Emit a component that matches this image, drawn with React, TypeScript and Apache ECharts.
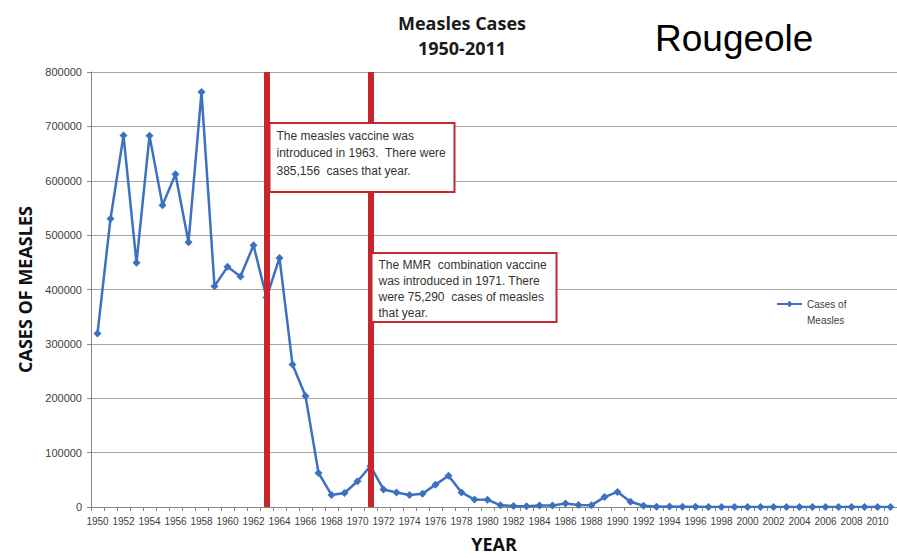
import React, { useEffect, useRef } from "react";
import * as echarts from "echarts";

// Reported measles cases in the United States, one value per year
const years = [
  "1950", "1951", "1952", "1953", "1954", "1955", "1956", "1957", "1958", "1959",
  "1960", "1961", "1962", "1963", "1964", "1965", "1966", "1967", "1968", "1969",
  "1970", "1971", "1972", "1973", "1974", "1975", "1976", "1977", "1978", "1979",
  "1980", "1981", "1982", "1983", "1984", "1985", "1986", "1987", "1988", "1989",
  "1990", "1991", "1992", "1993", "1994", "1995", "1996", "1997", "1998", "1999",
  "2000", "2001", "2002", "2003", "2004", "2005", "2006", "2007", "2008", "2009",
  "2010", "2011",
];

const cases = [
  319124, 530118, 683077, 449146, 682720, 555156, 611936, 486799, 763094, 406162,
  441703, 423919, 481530, 385156, 458083, 261904, 204136, 62705, 22231, 25826,
  47351, 75290, 32275, 26690, 22094, 24374, 41126, 57345, 26871, 13597,
  13506, 3124, 1714, 1497, 2587, 2822, 6282, 3655, 3396, 18193,
  27786, 9643, 2237, 312, 963, 309, 508, 138, 100, 100,
  86, 116, 44, 56, 37, 66, 55, 43, 140, 71,
  63, 220,
];

const seriesName = "Cases of Measles";
const vaccineYear = "1963";
const mmrYear = "1971";

const vaccineNote =
  "The measles vaccine was\nintroduced in 1963.  There were\n385,156  cases that year.";
const mmrNote =
  "The MMR  combination vaccine\nwas introduced in 1971. There\nwere 75,290  cases of measles\nthat year.";

const BLUE = "#3c71bf";
const RED = "#c8262c";
const GRID_GRAY = "#a6a6a6";
const TEXT_GRAY = "#404040";
const SANS = "'Liberation Sans', Arial, sans-serif";
const HEAD = "'Open Sans', 'Liberation Sans', sans-serif";

function noteBox(x: number, y: number, text: string, lineHeight: number) {
  return {
    type: "group",
    x,
    y,
    z: 100,
    children: [
      {
        type: "rect",
        z: 100,
        shape: { x: 0, y: 0, width: 185, height: 69 },
        style: { fill: "#ffffff", stroke: "#c2282e", lineWidth: 2 },
      },
      {
        type: "text",
        z: 101,
        x: 7,
        y: 4,
        style: {
          text,
          fill: "#333333",
          font: `12px ${SANS}`,
          lineHeight,
          verticalAlign: "top",
        },
      },
    ],
  };
}

export default function App() {
  const ref = useRef<HTMLDivElement>(null);

  useEffect(() => {
    if (!ref.current) return;
    const chart = echarts.init(ref.current, undefined, { renderer: "svg" });

    chart.setOption({
      animation: false,
      backgroundColor: "#ffffff",
      title: [
        {
          text: "Measles Cases\n1950-2011",
          left: 457,
          top: 5,
          textAlign: "center",
          textStyle: {
            fontFamily: HEAD,
            fontWeight: "bold",
            fontSize: 18,
            lineHeight: 25,
            color: "#1a1a1a",
          },
        },
        {
          text: "Rougeole",
          left: 650,
          top: 15,
          textStyle: {
            fontFamily: SANS,
            fontWeight: "normal",
            fontSize: 37,
            color: "#000000",
          },
        },
      ],
      legend: {
        data: [seriesName],
        left: 771,
        top: 275,
        itemWidth: 25,
        itemHeight: 8,
        formatter: () => " \nCases of\nMeasles",
        textStyle: { fontFamily: SANS, fontSize: 10, lineHeight: 16, color: TEXT_GRAY },
      },
      grid: { left: 91, top: 72, width: 808, height: 439 },
      xAxis: {
        type: "category",
        data: years,
        boundaryGap: true,
        name: "YEAR",
        nameLocation: "middle",
        nameGap: 28,
        nameTextStyle: {
          fontFamily: HEAD,
          fontWeight: "bold",
          fontSize: 18,
          color: "#111111",
        },
        axisLine: { lineStyle: { color: "#868686", width: 1 } },
        axisTick: { show: true, interval: 0, length: 4, lineStyle: { color: "#868686" } },
        axisLabel: {
          interval: 1,
          margin: 9,
          fontFamily: SANS,
          fontSize: 10,
          color: TEXT_GRAY,
        },
        splitLine: { show: false },
      },
      yAxis: {
        type: "value",
        min: 0,
        max: 800000,
        interval: 100000,
        name: "CASES OF MEASLES",
        nameLocation: "middle",
        nameRotate: 90,
        nameGap: 48,
        nameTextStyle: {
          fontFamily: HEAD,
          fontWeight: "bold",
          fontSize: 18,
          color: "#111111",
        },
        axisLine: { show: true, lineStyle: { color: "#868686", width: 1 } },
        axisTick: { show: true, length: 4, lineStyle: { color: "#868686" } },
        axisLabel: {
          formatter: (v: number) => String(v),
          margin: 9,
          fontFamily: SANS,
          fontSize: 11,
          color: TEXT_GRAY,
        },
        splitLine: { show: true, lineStyle: { color: GRID_GRAY, width: 1 } },
      },
      series: [
        {
          name: seriesName,
          type: "line",
          data: cases,
          symbol: "diamond",
          symbolSize: 8,
          color: BLUE,
          lineStyle: { color: BLUE, width: 2.5 },
          itemStyle: { color: BLUE },
          markLine: {
            silent: true,
            symbol: ["none", "none"],
            label: { show: false },
            lineStyle: { color: RED, width: 6, type: "solid" },
            data: [{ xAxis: vaccineYear }, { xAxis: mmrYear }],
          },
        },
      ],
    });

    // Place the two call-out boxes next to the vaccine lines
    const xVaccine = chart.convertToPixel({ xAxisIndex: 0 }, vaccineYear) as number;
    const xMmr = chart.convertToPixel({ xAxisIndex: 0 }, mmrYear) as number;
    chart.setOption({
      graphic: [
        noteBox(xVaccine + 3, 123, vaccineNote, 17.5),
        noteBox(xMmr + 1, 253, mmrNote, 16),
      ],
    });

    return () => chart.dispose();
  }, []);

  return (
    <div
      ref={ref}
      style={{ position: "absolute", left: 0, top: 0, width: 897, height: 558 }}
    />
  );
}
